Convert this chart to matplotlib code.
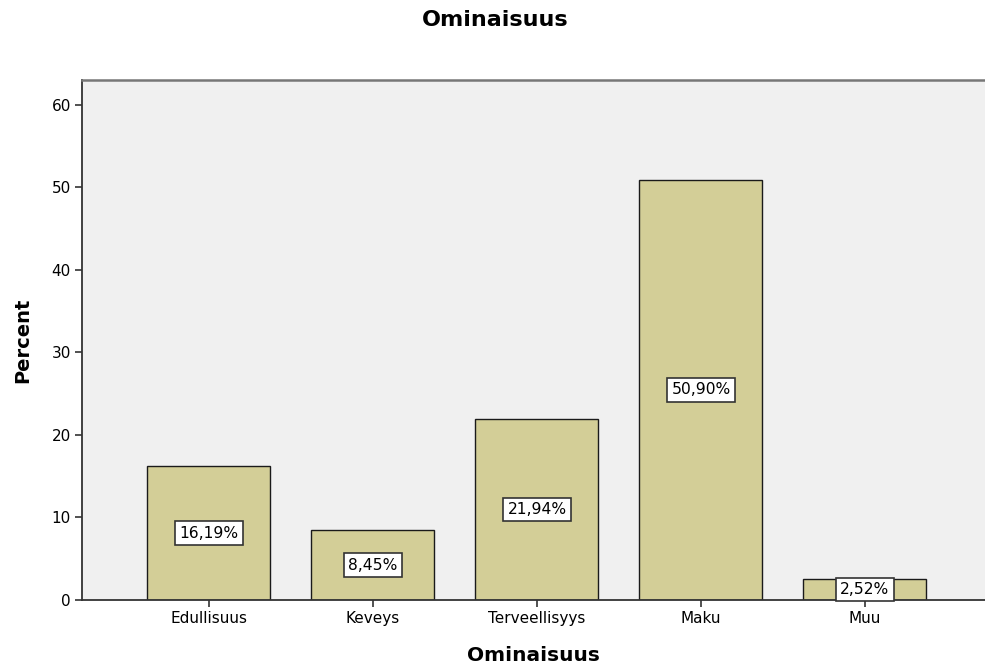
import numpy as np
import matplotlib
matplotlib.use('Agg')
import matplotlib.pyplot as plt

# data
categories = ['Edullisuus', 'Keveys', 'Terveellisyys', 'Maku', 'Muu']
percents = [16.19, 8.45, 21.94, 50.90, 2.52]
yticks = [0, 10, 20, 30, 40, 50, 60]

plt.rcParams['font.family'] = ['DejaVu Sans']

fig = plt.figure(figsize=(9.85, 6.67), dpi=100)
ax = fig.add_axes([82 / 985, 1 - 600 / 667, 903 / 985, 520 / 667])
ax.set_facecolor('#F0F0F0')

x = np.arange(len(categories))
ax.bar(x, percents, width=0.75, color='#D3CE97', edgecolor='#1a1a1a', linewidth=1.0, zorder=2)

# percentage labels in boxes at mid height
for xi, v in zip(x, percents):
    ax.text(xi, v / 2, f'{v:.2f}%'.replace('.', ','), ha='center', va='center',
            fontsize=11.2, color='black', zorder=3,
            bbox=dict(boxstyle='square,pad=0.27', facecolor='white', edgecolor='#333333', linewidth=1.2))

ax.set_xlim(-0.774, 4.732)
ax.set_ylim(0, 63)
ax.set_yticks(yticks)
ax.set_xticks(x)
ax.set_xticklabels(categories)
ax.tick_params(axis='both', direction='out', length=5, width=1.2, color='#333333', labelsize=11, pad=3)

for side in ['left', 'bottom']:
    ax.spines[side].set_color('#333333')
    ax.spines[side].set_linewidth(1.3)
ax.spines['top'].set_color('#777777')
ax.spines['top'].set_linewidth(1.8)
ax.spines['right'].set_visible(False)

ax.set_xlabel('Ominaisuus', fontsize=14.5, fontweight='bold', labelpad=14)
ax.set_ylabel('Percent', fontsize=14, fontweight='bold', labelpad=14)
fig.text(495 / 985, 1 - 20 / 667, 'Ominaisuus', ha='center', va='center', fontsize=16, fontweight='bold')

fig.savefig('out.png', dpi=100)
